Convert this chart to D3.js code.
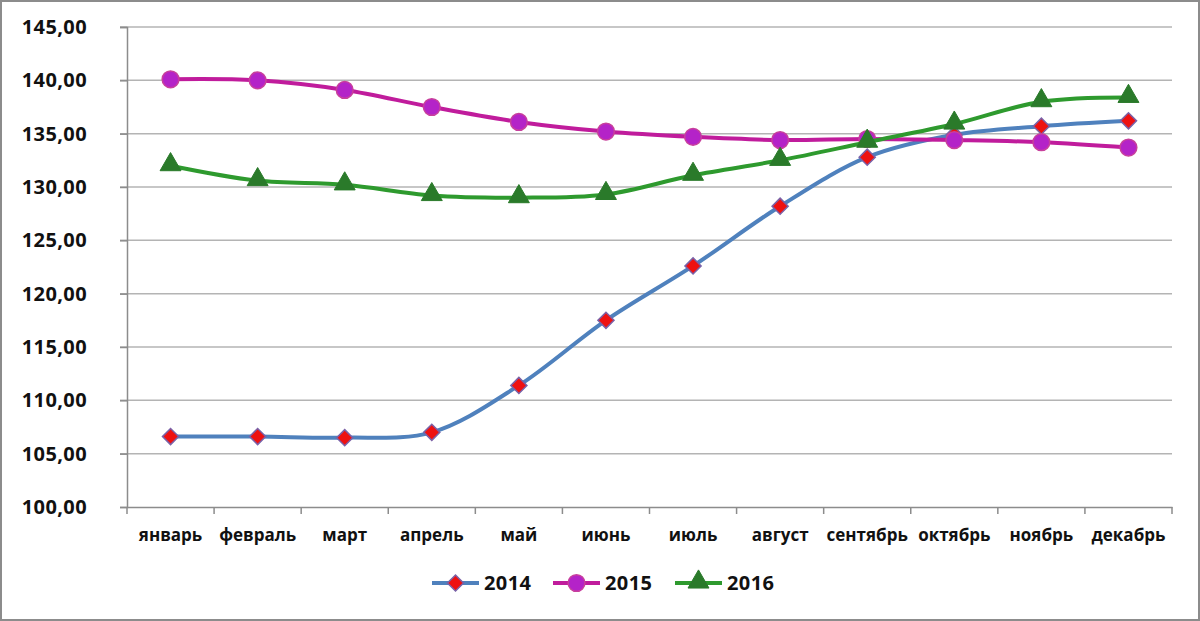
<!DOCTYPE html>
<html><head><meta charset="utf-8">
<script src="https://cdn.jsdelivr.net/npm/d3@7"></script>
<style>html,body{margin:0;padding:0;background:#fff;}svg{display:block;}</style>
</head><body>
<svg id="chart" width="1200" height="621"></svg>
<script>
const months = ["январь","февраль","март","апрель","май","июнь","июль","август","сентябрь","октябрь","ноябрь","декабрь"];
const series2014 = [106.6,106.6,106.5,107.0,111.4,117.5,122.6,128.2,132.8,134.9,135.7,136.2];
const series2015 = [140.1,140.0,139.1,137.5,136.1,135.2,134.7,134.4,134.5,134.4,134.2,133.7];
const series2016 = [132.0,130.6,130.2,129.2,129.0,129.3,131.1,132.5,134.2,135.9,138.0,138.4];
const yTicks = [100,105,110,115,120,125,130,135,140,145];
const seriesNames = ["2014","2015","2016"];

(function(){
const svg = d3.select("#chart");
const W = 1200, H = 621;
svg.append("rect").attr("x",1).attr("y",1).attr("width",W-2).attr("height",H-2)
  .attr("fill","#fff").attr("stroke","#8c8c8c").attr("stroke-width",2);

const mL = 127, mR = 1172, mT = 27, mB = 507;
const x = d3.scaleBand().domain(months).range([mL,mR]);
const y = d3.scaleLinear().domain([100,145]).range([mB,mT]);
const font = "'Open Sans', 'Liberation Sans', sans-serif";

// gridlines
svg.append("g").selectAll("line").data(yTicks.filter(t=>t>100)).join("line")
  .attr("x1",mL-7).attr("x2",mR).attr("y1",d=>y(d)).attr("y2",d=>y(d))
  .attr("stroke","#b4b4b4").attr("stroke-width",1.5);

// y axis
const yAxis = svg.append("g").attr("transform",`translate(${mL},0)`)
  .call(d3.axisLeft(y).tickValues(yTicks).tickSize(7).tickPadding(33)
    .tickFormat(d=>d3.format(".2f")(d).replace(".",",")));
yAxis.select(".domain").attr("stroke","#8c8c8c").attr("stroke-width",1.5);
yAxis.selectAll(".tick line").attr("stroke","#8c8c8c").attr("stroke-width",1.5);
yAxis.selectAll("text").attr("font-family",font).attr("font-weight","bold")
  .attr("font-size",20).attr("letter-spacing","0.4px").attr("fill","#111");

// x axis
const xAxis = svg.append("g").attr("transform",`translate(0,${mB})`)
  .call(d3.axisBottom(x).tickSize(0).tickPadding(22));
xAxis.select(".domain").attr("stroke","#8c8c8c").attr("stroke-width",1.5);
xAxis.selectAll("text").attr("font-family",font).attr("font-weight","bold")
  .attr("font-size",17).attr("fill","#111");
// boundary ticks
const bounds = months.map(m=>x(m)).concat([mR]);
svg.append("g").selectAll("line").data(bounds).join("line")
  .attr("x1",d=>d).attr("x2",d=>d).attr("y1",mB).attr("y2",mB+7)
  .attr("stroke","#8c8c8c").attr("stroke-width",1.5);

const cx = m => x(m) + x.bandwidth()/2;
const curve = d3.curveCatmullRom.alpha(0.5);
const line = d3.line().x((d,i)=>cx(months[i])).y(d=>y(d)).curve(curve);

const styles = [
  {data:series2014, color:"#4f81bd", sym:d3.symbolSquare, rot:45, dy:0, size:130, fill:"#ee1111", stroke:"#7a62a8", sw:1.5},
  {data:series2015, color:"#c01c9c", sym:d3.symbolCircle, rot:0, dy:0, size:220, fill:"#b423c8", stroke:"#c8409c", sw:1.5},
  {data:series2016, color:"#2e9a2e", sym:d3.symbolTriangle, rot:0, dy:-1, size:190, fill:"#2a7a2a", stroke:"#2a7a2a", sw:1}
];

styles.forEach(s=>{
  const g = svg.append("g");
  g.append("path").datum(s.data).attr("d",line).attr("fill","none")
    .attr("stroke",s.color).attr("stroke-width",4).attr("stroke-linejoin","round");
  g.selectAll("path.m").data(s.data).join("path").attr("class","m")
    .attr("transform",(d,i)=>`translate(${cx(months[i])},${y(d) + s.dy}) rotate(${s.rot})`)
    .attr("d",d3.symbol().type(s.sym).size(s.size))
    .attr("fill",s.fill).attr("stroke",s.stroke).attr("stroke-width",s.sw);
});

// legend
const legX = [432, 553, 675];
const legY = 583;
styles.forEach((s,i)=>{
  const g = svg.append("g").attr("transform",`translate(${legX[i]},${legY})`);
  g.append("line").attr("x1",0).attr("x2",47).attr("y1",0).attr("y2",0)
    .attr("stroke",s.color).attr("stroke-width",4);
  g.append("path").attr("transform",`translate(23.5,${s.dy}) rotate(${s.rot})`)
    .attr("d",d3.symbol().type(s.sym).size(s.size))
    .attr("fill",s.fill).attr("stroke",s.stroke).attr("stroke-width",s.sw);
  g.append("text").attr("x",52).attr("y",0).attr("dy","0.35em")
    .attr("font-family",font).attr("font-weight","bold").attr("font-size",20)
    .attr("letter-spacing","0.4px").attr("fill","#111").text(seriesNames[i]);
});
})();
</script>
</body></html>
